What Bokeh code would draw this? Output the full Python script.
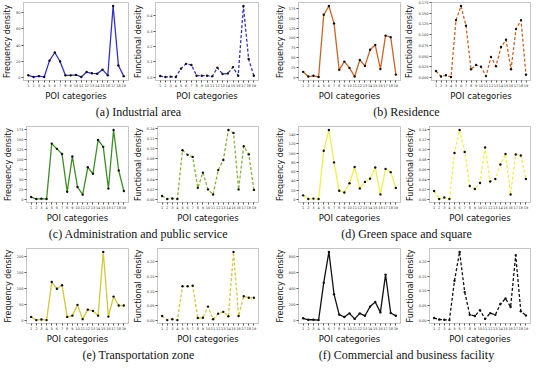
from bokeh.plotting import figure
from bokeh.layouts import column, row
from bokeh.models import Range1d, FixedTicker, Label, Spacer
from bokeh.embed import file_html
from bokeh.resources import INLINE

categories = list(range(1, 20))

industrial_freq = [3, 1, 2, 1, 21, 31, 20, 3, 3, 3.5, 1, 7, 5.5, 5, 10, 3, 88, 15, 2]
industrial_func = [0.008, 0.002, 0.004, 0.002, 0.056, 0.087, 0.080, 0.010, 0.010, 0.010,
                   0.006, 0.062, 0.021, 0.025, 0.066, 0.010, 0.462, 0.118, 0.010]
residence_freq = [14, 2, 4, 1, 159, 181, 137, 19, 40, 24, 2, 44, 29, 70, 82, 21, 106, 102, 7]
residence_func = [0.015, 0.002, 0.005, 0.001, 0.134, 0.167, 0.121, 0.019, 0.029, 0.025,
                  0.003, 0.048, 0.026, 0.071, 0.088, 0.019, 0.113, 0.134, 0.006]
admin_freq = [6, 1, 2, 1, 139, 126, 113, 19, 107, 31, 12, 80, 64, 148, 131, 27, 173, 72, 21]
admin_func = [0.007, 0.001, 0.002, 0.001, 0.097, 0.088, 0.084, 0.023, 0.053, 0.020,
              0.010, 0.058, 0.078, 0.137, 0.131, 0.020, 0.105, 0.089, 0.019]
green_freq = [9, 1, 2, 1, 105, 150, 80, 19, 15, 35, 70, 24, 38, 45, 69, 11, 66, 59, 25]
green_func = [0.017, 0.001, 0.004, 0.001, 0.093, 0.139, 0.095, 0.027, 0.021, 0.033,
              0.104, 0.036, 0.041, 0.070, 0.091, 0.010, 0.090, 0.088, 0.041]
transport_freq = [11, 1, 3, 1, 121, 100, 111, 11, 15, 49, 4, 34, 30, 15, 216, 12, 75, 47, 47]
transport_func = [0.016, 0.002, 0.005, 0.002, 0.117, 0.117, 0.119, 0.009, 0.010, 0.048,
                  0.005, 0.024, 0.030, 0.015, 0.234, 0.016, 0.083, 0.078, 0.078]
commercial_freq = [27, 8, 8, 4, 476, 863, 329, 73, 43, 89, 19, 89, 58, 174, 232, 101, 577, 93, 58]
commercial_func = [0.007, 0.002, 0.001, 0.000, 0.135, 0.234, 0.096, 0.018, 0.014, 0.034,
                   0.004, 0.024, 0.018, 0.055, 0.074, 0.045, 0.223, 0.030, 0.016]

ticks_industrial_freq = [0, 20, 40, 60, 80]
ticks_industrial_func = [0.0, 0.1, 0.2, 0.3, 0.4]
ticks_residence_freq = [0, 25, 50, 75, 100, 125, 150, 175]
ticks_residence_func = [0.0, 0.025, 0.05, 0.075, 0.1, 0.125, 0.15, 0.175]
ticks_admin_freq = [0, 25, 50, 75, 100, 125, 150, 175]
ticks_admin_func = [0.0, 0.02, 0.04, 0.06, 0.08, 0.10, 0.12, 0.14]
ticks_green_freq = [0, 20, 40, 60, 80, 100, 120, 140]
ticks_green_func = [0.0, 0.02, 0.04, 0.06, 0.08, 0.10, 0.12, 0.14]
ticks_transport_freq = [0, 50, 100, 150, 200]
ticks_transport_func = [0.0, 0.05, 0.10, 0.15, 0.20, 0.25]
ticks_commercial_freq = [0, 200, 400, 600, 800]
ticks_commercial_func = [0.0, 0.05, 0.10, 0.15, 0.20]

captions = ["(a) Industrial area", "(b) Residence",
            "(c) Administration and public service", "(d) Green space and square",
            "(e) Transportation zone", "(f) Commercial and business facility"]

FIG_W = 130
AX_FONT = "DejaVu Sans"
FRAME_COL = "#c4c4c4"


def panel(values, ticks, fmt, ylabel, color, dashed, height, top):
    lo, hi = min(values), max(values)
    span = hi - lo
    p = figure(width=FIG_W, height=height, output_backend="svg", toolbar_location=None,
               x_range=Range1d(0.1, 19.9),
               y_range=Range1d(lo - 0.05 * span, hi + 0.05 * span),
               min_border_left=1, min_border_right=2, min_border_top=top,
               min_border_bottom=0)
    p.grid.visible = False
    p.outline_line_color = FRAME_COL
    p.outline_line_width = 1
    p.background_fill_color = "white"
    p.border_fill_color = "white"
    p.xaxis.ticker = FixedTicker(ticks=categories)
    p.yaxis.ticker = FixedTicker(ticks=ticks)
    p.yaxis.major_label_overrides = {t: fmt % t for t in ticks}
    for ax in (p.xaxis[0], p.yaxis[0]):
        ax.axis_line_color = FRAME_COL
        ax.major_tick_line_color = "#555555"
        ax.major_tick_out = 2
        ax.major_tick_in = 0
        ax.minor_tick_out = 0
        ax.minor_tick_in = 0
        ax.major_label_text_font_size = "3.5px"
        ax.major_label_text_color = "#333333"
        ax.major_label_text_font = AX_FONT
        ax.major_label_standoff = 1
        ax.axis_label_text_font = AX_FONT
        ax.axis_label_text_font_size = "8.5px"
        ax.axis_label_text_font_style = "normal"
        ax.axis_label_text_color = "#111111"
        ax.axis_label_standoff = 1
    p.yaxis.axis_label_text_font_size = "8px"
    p.xaxis.axis_label = "POI categories"
    p.yaxis.axis_label = ylabel
    p.line(categories, values, line_color=color, line_width=1.3,
           line_dash="3 2" if dashed else "solid")
    p.scatter(categories, values, size=2.4, color="#111111", line_width=0)
    return p


def caption_fig(left_text, right_text, height):
    c = figure(width=4 * FIG_W + 12, height=height, output_backend="svg",
               toolbar_location=None, x_axis_type=None, y_axis_type=None,
               min_border=0, outline_line_color=None)
    c.grid.visible = False
    for xpos, txt in ((138, left_text), (406, right_text)):
        c.add_layout(Label(x=xpos, y=height / 2, x_units="screen", y_units="screen",
                           text=txt, text_align="center", text_baseline="middle",
                           text_font="Liberation Serif", text_font_size="12px",
                           text_color="#111111"))
    return c


specs = [
    [(industrial_freq, ticks_industrial_freq, "%d", "#3232c8"),
     (industrial_func, ticks_industrial_func, "%.1f", "#3232c8"),
     (residence_freq, ticks_residence_freq, "%d", "#c8662a"),
     (residence_func, ticks_residence_func, "%.3f", "#c8662a")],
    [(admin_freq, ticks_admin_freq, "%d", "#3f8c26"),
     (admin_func, ticks_admin_func, "%.2f", "#86b23c"),
     (green_freq, ticks_green_freq, "%d", "#eef04e"),
     (green_func, ticks_green_func, "%.2f", "#eef04e")],
    [(transport_freq, ticks_transport_freq, "%d", "#d2c83c"),
     (transport_func, ticks_transport_func, "%.2f", "#d2c83c"),
     (commercial_freq, ticks_commercial_freq, "%d", "#111111"),
     (commercial_func, ticks_commercial_func, "%.2f", "#111111")],
]

row_heights = [(103, 2, 17), (105, 6, 17), (104, 6, 17)]
items = []
for r, (spec_row, (h, top, ch)) in enumerate(zip(specs, row_heights)):
    figs = []
    for i, (vals, ticks, fmt, col) in enumerate(spec_row):
        ylabel = "Frequency density" if i % 2 == 0 else "Functional density"
        figs.append(panel(vals, ticks, fmt, ylabel, col, i % 2 == 1, h, top))
    items.append(row(figs[0], figs[1], Spacer(width=12), figs[2], figs[3]))
    items.append(caption_fig(captions[2 * r], captions[2 * r + 1], ch))

p = column(*items)
open("out.html", "w").write(file_html(p, INLINE))
